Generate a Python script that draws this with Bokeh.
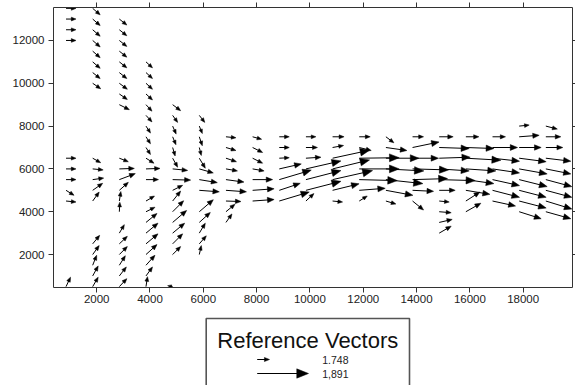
import math
from bokeh.plotting import figure
from bokeh.models import Range1d, LinearAxis, FixedTicker, ColumnDataSource, Label, CustomJSTickFormatter
from bokeh.layouts import column
from bokeh.embed import file_html
from bokeh.resources import INLINE

# ---------------- data ----------------
X_START, X_END = 380, 19850
Y_START, Y_END = 460, 13540
X_TICKS = [2000, 4000, 6000, 8000, 10000, 12000, 14000, 16000, 18000]
Y_TICKS = [2000, 4000, 6000, 8000, 10000, 12000]

# x of each grid column (vector tails)
NODE_X = [850, 1850, 2850, 3850, 4850, 5850, 6850, 7850, 8850, 9850,
          10850, 11850, 12850, 13850, 14850, 15850, 16850, 17850, 18850]

# per column: (y of tail, u, v)  -- vector components in display units
COL00 = [(13500, 10, 0), (13000, 10, 0), (12500, 10, 0), (12000, 10, 0), (6500, 10, 0),
         (6000, 10, 0), (5500, 10, 0), (5000, 8, -5), (4500, 10, -1), (500, 4.5, 9.5)]
COL01 = [(13500, 7.5, -6.5), (13000, 7.5, -6.5), (12500, 7.5, -6.5), (12000, 7.5, -6.5),
         (11500, 7.5, -6.5), (11000, 7.5, -6.5), (10500, 7.5, -6), (10000, 8, -5.5),
         (6500, 8, -4.5), (6000, 10.5, -1), (5500, 11, 1.5), (5000, 10, 7), (4500, 6.5, 9),
         (2500, 7, 8.5), (2000, 6.5, 9), (1500, 4, 10), (1000, 5.5, 10), (500, 5.5, 9.5)]
COL02 = [(13000, 7.5, -6), (12500, 7.5, -6), (12000, 7.5, -6), (11500, 7.5, -6), (11000, 7.5, -6),
         (10500, 7.5, -6), (10000, 8, -6), (9500, 8, -5.5), (9000, 10, -5), (6500, 9, -3.5),
         (6000, 15, 0.5), (5500, 16, 6), (5000, 9, 8), (4500, 1.5, 9.5), (4000, 0.5, 9.5),
         (3000, 5, 8.5), (2500, 8, 7.5), (2000, 8, 8), (1500, 6, 9.5), (1000, 7, 9), (500, 7.5, 8)]
COL03 = [(11000, 6.5, -6), (10500, 6.5, -6), (10000, 6.5, -6), (9500, 6.5, -6), (9000, 6, -6.5),
         (8500, 6, -6.5), (8000, 4.5, -7), (7500, 4.5, -7), (7000, 4.5, -7), (6500, 8, -5),
         (6000, 14, 0.5), (5500, 12.5, 0), (4500, 8.5, 5), (4000, 9, 4.5), (3500, 11, 9),
         (3000, 12, 10), (2500, 12, 10), (2000, 11, 10), (1500, 9, 10), (1000, 6.5, 9), (500, 1.5, 10)]
COL04 = [(9000, 8, -6), (8500, 5, -7), (8000, 3.5, -8), (7500, 3.3, -8), (7000, 2.5, -8.5),
         (6500, 5, -9), (6000, 15, -1.5), (5500, 18, -0.5), (5000, 10, 5), (4500, 8, 10),
         (4000, 11, 11), (3500, 14, 12), (3000, 12, 10), (2500, 10, 10), (2000, 8, 8), (500, -5, 1)]
COL05 = [(8500, 5.5, -7), (8000, 3, -7.5), (7500, 3, -9), (7000, 2, -8), (6500, 6, -10),
         (6000, 14, -4), (5500, 18, -3), (5000, 20, -1.5), (4000, 14, 12), (3500, 11, 10),
         (3000, 6, 10), (2500, 7, 8), (2000, 2, 9)]
COL06 = [(7500, 10, -1), (7000, 10, -3), (6500, 10.5, -3.5), (6000, 11.5, -2), (5500, 18, -2.5),
         (5000, 20.5, -1.5), (4500, 15, -0.5), (4000, 9, 7.5), (3500, 6, 8.5)]
COL07 = [(7500, 9, -2.5), (7000, 10, -5), (6500, 10, -5), (6000, 11.5, -2), (5500, 20, 0),
         (5000, 21.5, 1.5), (4500, 21.5, 1.5)]
COL08 = [(7500, 10, 0), (7000, 10, 0), (6500, 10, 0.5), (6000, 22, 5), (5500, 32, 9.5),
         (5000, 21, 7), (4500, 30, 9)]
COL09 = [(7500, 10, 0), (7000, 11.5, 0), (6500, 15, 1), (6000, 35, 8), (5500, 35, 9),
         (5000, 35, 9), (4500, 8, 7.5)]
COL10 = [(7500, 11.5, 0), (7000, 11, 2), (6500, 37, 8), (6000, 37, 9), (5500, 40, 9),
         (5000, 26.5, 6.5), (4500, 10, -1)]
COL11 = [(7500, 11, 0), (7000, 12, -3), (6500, 40, 0.5), (6000, 40, 0), (5500, 38, -1),
         (5000, 26, 2), (4500, 8, 5)]
COL12 = [(7500, 8, -6), (7000, 21, -3), (6500, 33, 0), (6000, 38, -2), (5500, 37, -4),
         (5000, 27, -5), (4500, 10, -3)]
COL13 = [(7500, 11, 0), (7000, 26.5, 5.5), (6500, 26, 0), (6000, 36, -1), (5500, 35, 1),
         (5000, 21, -1), (4500, 11, -9)]
COL14 = [(7500, 14, 0), (7000, 30, -1), (6500, 31, 1), (6000, 30, -2), (5500, 36, -1),
         (5000, 16, 0), (4500, 10, -1), (4000, 12, -1), (3500, 13, 3), (3000, 12, 7)]
COL15 = [(7500, 13, 0), (7000, 28, -1), (6500, 35, -2), (6000, 30, -2), (5500, 28, -4),
         (5000, 24, -4), (4500, 14, 9), (4000, 15, 8.5)]
COL16 = [(7500, 13, 0), (7000, 25, 0), (6500, 27, -3), (6000, 27, -4), (5500, 27, -6),
         (5000, 27, -7), (4500, 23, -5)]
COL17 = [(8000, 10, 1), (7500, 20, 1.5), (7000, 22, 0), (6500, 27, -3.5), (6000, 28, -5),
         (5500, 28, -7), (5000, 27, -7), (4500, 27, -7), (4000, 22, -7)]
COL18 = [(8000, 11.5, -3), (7500, 15, 0), (7000, 17, 0), (6500, 25, -3), (6000, 25, -5),
         (5500, 26, -7), (5000, 26, -7), (4500, 26, -8), (4000, 25, -7)]
VECTOR_COLUMNS = [COL00, COL01, COL02, COL03, COL04, COL05, COL06, COL07, COL08, COL09,
                  COL10, COL11, COL12, COL13, COL14, COL15, COL16, COL17, COL18]

LEGEND_TITLE = "Reference Vectors"
LEGEND_LABELS = ["1.748", "1,891"]
LEGEND_LENGTHS = [12.3, 51.3]

# ---------------- geometry helpers ----------------
FIG_W = 575
BORDER_L, BORDER_R, BORDER_T, BORDER_B = 53, 3, 7, 23
FRAME_W, FRAME_H = FIG_W - BORDER_L - BORDER_R, 280
SX = FRAME_W / (X_END - X_START)   # px per data unit
SY = FRAME_H / (Y_END - Y_START)


def arrows(tails, comps, kx, ky):
    seg = dict(x0=[], y0=[], x1=[], y1=[])
    head = dict(xs=[], ys=[])
    for (x0, y0), (u, v) in zip(tails, comps):
        L = math.hypot(u, v)
        hl = 3 + 0.17 * L
        hw = 0.4 * hl
        cx, cy = u / L, v / L
        bx, by = u - cx * hl, v - cy * hl
        pts = [(u, v), (bx - cy * hw, by + cx * hw), (bx + cy * hw, by - cx * hw)]
        seg["x0"].append(x0)
        seg["y0"].append(y0)
        seg["x1"].append(x0 + (bx + cx * 1.0) / kx)
        seg["y1"].append(y0 + (by + cy * 1.0) / ky)
        head["xs"].append([x0 + px / kx for px, _ in pts])
        head["ys"].append([y0 + py / ky for _, py in pts])
    return seg, head


tails, comps = [], []
for nx, col in zip(NODE_X, VECTOR_COLUMNS):
    for (ny, u, v) in col:
        tails.append((nx, ny))
        comps.append((u, v))
seg, head = arrows(tails, comps, SX, SY)

FONT = "Liberation Sans"
AX_COLOR = "#333333"

# ---------------- main plot ----------------
p = figure(width=FIG_W, height=BORDER_T + FRAME_H + BORDER_B,
           x_range=Range1d(X_START, X_END), y_range=Range1d(Y_START, Y_END),
           min_border_left=BORDER_L, min_border_right=BORDER_R,
           min_border_top=BORDER_T, min_border_bottom=BORDER_B,
           toolbar_location=None, output_backend="svg",
           background_fill_color="white", border_fill_color="white")
p.outline_line_color = None
p.grid.visible = False

bottom_ax = p.below[0]
left_ax = p.left[0]
bottom_ax.ticker = FixedTicker(ticks=X_TICKS)
bottom_ax.major_label_standoff = 2
left_ax.ticker = FixedTicker(ticks=Y_TICKS)
left_ax.major_label_standoff = 4
for ax in (bottom_ax, left_ax):
    ax.major_label_text_font = FONT
    ax.major_label_text_font_size = "11.5px"
    ax.major_label_text_color = "#222222"

blank = CustomJSTickFormatter(code="return ''")
top_ax = LinearAxis(ticker=FixedTicker(ticks=X_TICKS), formatter=blank,
                    major_label_text_font_size="0px", major_label_standoff=0)
right_ax = LinearAxis(ticker=FixedTicker(ticks=Y_TICKS), formatter=blank,
                      major_label_text_font_size="0px", major_label_standoff=0)
p.add_layout(top_ax, "above")
p.add_layout(right_ax, "right")

for ax in (bottom_ax, left_ax, top_ax, right_ax):
    ax.axis_line_color = AX_COLOR
    ax.axis_line_width = 1
    ax.major_tick_line_color = AX_COLOR
    ax.minor_tick_line_color = None
    ax.major_tick_in = 0
    ax.major_tick_out = 5
right_ax.major_tick_out = 3

p.segment(x0="x0", y0="y0", x1="x1", y1="y1", source=ColumnDataSource(seg),
          line_color="black", line_width=1)
p.patches(xs="xs", ys="ys", source=ColumnDataSource(head),
          fill_color="black", line_color="black", line_width=0.5)

# ---------------- legend panel (1 data unit = 1 px, x = page x) ----------------
LG_H = 75
lg = figure(width=FIG_W, height=LG_H, x_range=Range1d(BORDER_L, FIG_W - BORDER_R),
            y_range=Range1d(0, LG_H),
            min_border_left=BORDER_L, min_border_right=BORDER_R,
            min_border_top=0, min_border_bottom=0,
            x_axis_location=None, y_axis_location=None,
            toolbar_location=None, output_backend="svg",
            background_fill_color="white", border_fill_color="white")
lg.outline_line_color = None
lg.grid.visible = False

lg.quad(left=[205.7], right=[409], top=[67], bottom=[-20], fill_color=None,
        line_color="#555555", line_width=1.6)
lg.add_layout(Label(x=307.3, y=45, text=LEGEND_TITLE, text_align="center",
                    text_baseline="alphabetic", text_font=FONT, text_font_size="22px",
                    text_color="#111111"))

leg_rows_y = [26, 12]
leg_tails = [(256.7, yy) for yy in leg_rows_y]
leg_comps = [(L, 0) for L in LEGEND_LENGTHS]
lseg, lhead = arrows(leg_tails, leg_comps, 1.0, 1.0)
lg.segment(x0="x0", y0="y0", x1="x1", y1="y1", source=ColumnDataSource(lseg),
           line_color="black", line_width=1)
lg.patches(xs="xs", ys="ys", source=ColumnDataSource(lhead),
           fill_color="black", line_color="black", line_width=0.5)
for txt, yy in zip(LEGEND_LABELS, leg_rows_y):
    lg.add_layout(Label(x=321.7, y=yy, text=txt, text_align="left", text_baseline="middle",
                        text_font=FONT, text_font_size="10.5px", text_color="#222222"))

layout = column(p, lg)

open("out.html", "w").write(file_html(layout, INLINE))
